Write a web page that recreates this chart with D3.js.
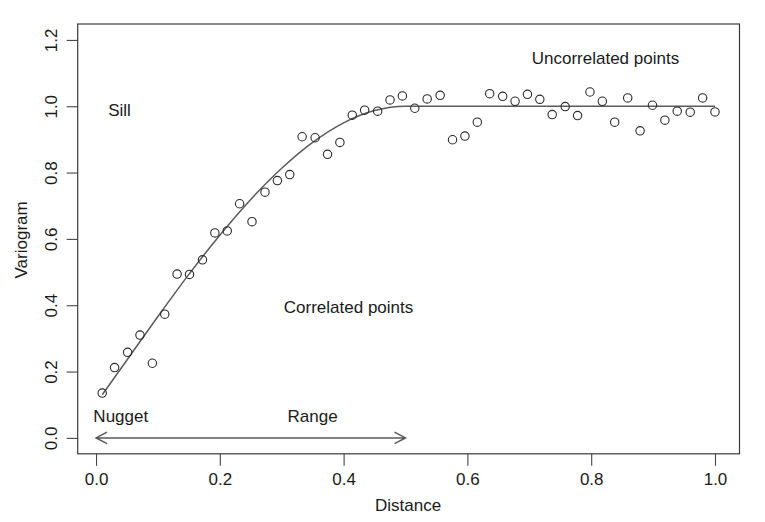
<!DOCTYPE html>
<html>
<head>
<meta charset="utf-8">
<script src="https://cdn.jsdelivr.net/npm/d3@7"></script>
<style>
body{margin:0;background:#fff}
text{font-family:"Liberation Sans",Arial,Helvetica,sans-serif;fill:#1a1a1a}
</style>
</head>
<body>
<div id="chart"></div>
<script>
// sample variogram points (distance, value)
var distances = [0.010,0.030,0.051,0.071,0.091,0.111,0.131,0.151,0.172,0.192,
	0.212,0.232,0.252,0.273,0.293,0.313,0.333,0.354,0.374,0.394,
	0.414,0.434,0.455,0.475,0.495,0.515,0.535,0.556,0.576,0.596,
	0.616,0.636,0.657,0.677,0.697,0.717,0.737,0.758,0.778,0.798,
	0.818,0.838,0.859,0.879,0.899,0.919,0.939,0.960,0.980,1.000]
var gammas = [0.135,0.212,0.258,0.310,0.225,0.373,0.494,0.493,0.537,0.618,
	0.624,0.706,0.652,0.741,0.776,0.794,0.908,0.905,0.855,0.891,
	0.973,0.988,0.985,1.019,1.031,0.994,1.022,1.033,0.899,0.910,
	0.952,1.038,1.030,1.015,1.036,1.021,0.975,0.999,0.972,1.043,
	1.015,0.952,1.025,0.926,1.003,0.958,0.985,0.982,1.025,0.983]

// fitted model line
var modelX = [0.01,0.05,0.10,0.15,0.20,0.25,0.30,0.35,0.40,0.45,0.50,0.60,0.80,1.00]
var modelY = [0.13,0.235,0.366,0.493,0.611,0.719,0.813,0.891,0.950,0.987,1.0,1.0,1.0,1.0]

var xTicks = [0,0.2,0.4,0.6,0.8,1.0]
var yTicks = [0,0.2,0.4,0.6,0.8,1.0,1.2]
var yLim = [0,1.2]

var annoText = ["Sill","Uncorrelated points","Correlated points","Nugget","Range"]
var annoX = [0.038,0.823,0.408,0.040,0.350]
var annoY = [0.99,1.145,0.396,0.066,0.066]

var rangeArrow = [0,0.5] // from, to at gamma = 0

var width = 765
var height = 522
var boxL = 77.7, boxR = 739.5, boxT = 24, boxB = 453.8
var fontSize = 17

var xExt = d3.extent(distances)
var xPad = (xExt[1]-xExt[0])*0.04
var yPad = (yLim[1]-yLim[0])*0.04

var xScale = d3.scaleLinear().domain([xExt[0]-xPad,xExt[1]+xPad]).range([boxL,boxR])
var yScale = d3.scaleLinear().domain([yLim[0]-yPad,yLim[1]+yPad]).range([boxB,boxT])

var svg = d3.select("#chart")
	.append("svg")
	.attr("width",width)
	.attr("height",height)

// axes
var xAxis = d3.axisBottom(xScale).tickValues(xTicks).tickSize(12).tickPadding(5)
	.tickFormat(d3.format(".1f"))
var yAxis = d3.axisLeft(yScale).tickValues(yTicks).tickSize(11)
	.tickFormat(d3.format(".1f"))

var xG = svg.append("g").attr("transform","translate(0,"+boxB+")").call(xAxis)
xG.select(".domain").remove()
xG.selectAll("line").attr("stroke","#444").attr("stroke-width",1.1)
xG.selectAll("text").attr("font-size",fontSize).attr("fill","#1a1a1a")
	.attr("dy",null).attr("y",31)
xG.attr("font-family",null).attr("font-size",null)

var yG = svg.append("g").attr("transform","translate("+boxL+",0)").call(yAxis)
yG.select(".domain").remove()
yG.selectAll("line").attr("stroke","#444").attr("stroke-width",1.1)
yG.selectAll("text").attr("font-size",fontSize).attr("fill","#1a1a1a")
	.attr("x",null).attr("dy",null).attr("text-anchor","middle")
	.attr("transform","translate(-21,0) rotate(-90)")
yG.attr("font-family",null).attr("font-size",null)

// box
svg.append("rect")
	.attr("x",boxL).attr("y",boxT)
	.attr("width",boxR-boxL).attr("height",boxB-boxT)
	.attr("fill","none").attr("stroke","#3a3a3a").attr("stroke-width",1.2)

// axis titles
svg.append("text").text("Distance")
	.attr("x",(boxL+boxR)/2-0.5).attr("y",510.5)
	.attr("text-anchor","middle").attr("font-size",fontSize)
svg.append("text").text("Variogram")
	.attr("text-anchor","middle").attr("font-size",fontSize)
	.attr("transform","translate(27,"+((boxT+boxB)/2+1)+") rotate(-90)")

// model line
var line = d3.line()
	.x(function(d){return xScale(d[0])})
	.y(function(d){return yScale(d[1])})
	.curve(d3.curveMonotoneX)
svg.append("path")
	.datum(d3.zip(modelX,modelY))
	.attr("d",line)
	.attr("fill","none")
	.attr("stroke","#5a5a5a")
	.attr("stroke-width",1.5)

// points
svg.selectAll(".pt")
	.data(d3.zip(distances,gammas))
	.enter()
	.append("circle")
	.attr("class","pt")
	.attr("cx",function(d){return xScale(d[0])})
	.attr("cy",function(d){return yScale(d[1])})
	.attr("r",4.2)
	.attr("fill","none")
	.attr("stroke","#2a2a2a")
	.attr("stroke-width",1.1)

// range arrow, heads at both ends
var ax0 = xScale(rangeArrow[0]), ax1 = xScale(rangeArrow[1]), ay = yScale(0)
var headLen = 11, headW = 5.8
svg.append("path")
	.attr("d","M"+ax0+","+ay+"L"+ax1+","+ay
		+"M"+(ax0+headLen)+","+(ay-headW)+"L"+ax0+","+ay+"L"+(ax0+headLen)+","+(ay+headW)
		+"M"+(ax1-headLen)+","+(ay-headW)+"L"+ax1+","+ay+"L"+(ax1-headLen)+","+(ay+headW))
	.attr("fill","none")
	.attr("stroke","#5a5a5a")
	.attr("stroke-width",1.5)

// annotations
svg.selectAll(".anno")
	.data(annoText)
	.enter()
	.append("text")
	.attr("class","anno")
	.text(function(d){return d})
	.attr("x",function(d,i){return xScale(annoX[i])})
	.attr("y",function(d,i){return yScale(annoY[i])})
	.attr("dy","0.36em")
	.attr("text-anchor","middle")
	.attr("font-size",fontSize)
</script>
</body>
</html>
